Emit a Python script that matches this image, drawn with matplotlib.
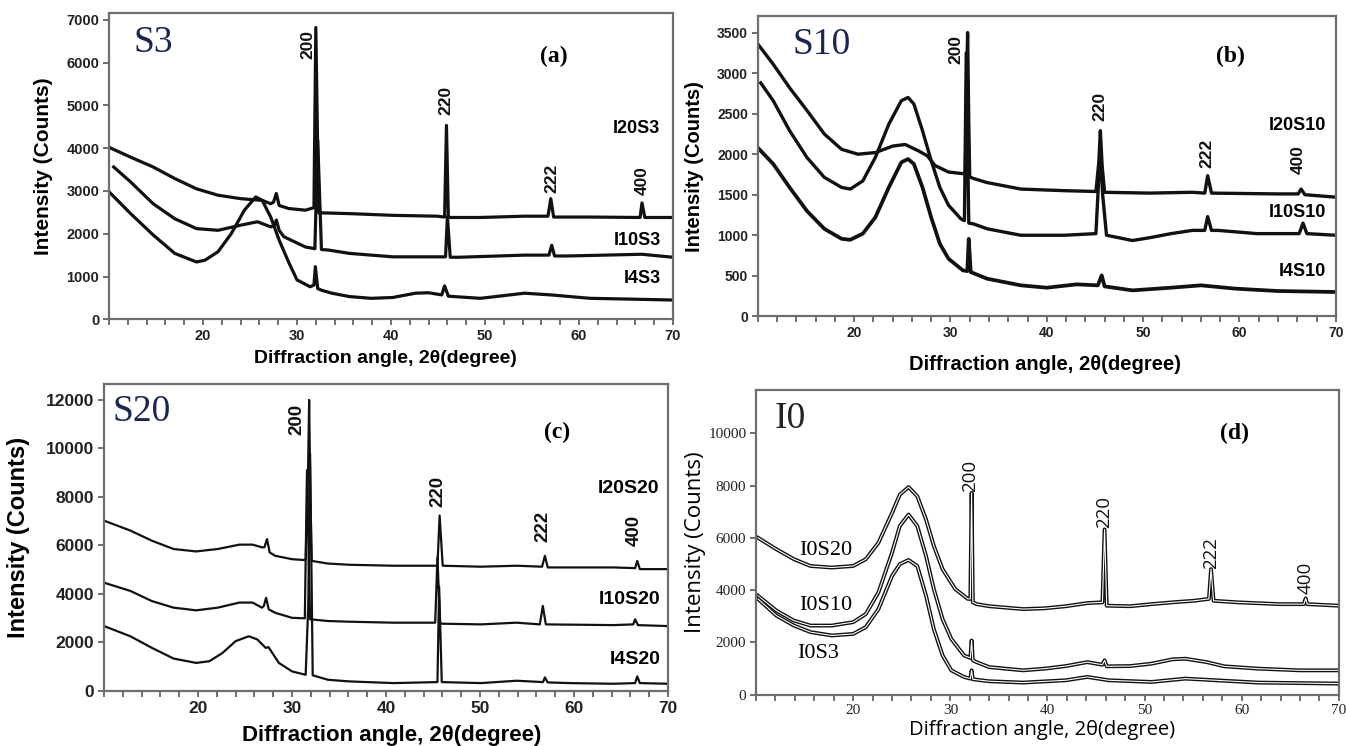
import matplotlib.pyplot as plt
from matplotlib.ticker import MultipleLocator

# ---------------- panel (a): S3 ----------------
tt_i20s3 = [10, 12.3, 14.7, 17, 19.3, 21.6, 24, 26.3, 27.2, 27.5, 27.8, 28.1, 29.1, 30.9, 31.8, 32.0, 32.3,
            35.6, 40.2, 44.9, 45.7, 45.9, 46.1, 49.5, 54.2, 56.7, 57.0, 57.3, 61.2, 66.5, 66.7, 67.0, 70]
i20s3 = [4020, 3790, 3560, 3290, 3050, 2900, 2820, 2780, 2700, 2740, 2940, 2660, 2590, 2550, 2610, 6820, 2490,
         2470, 2430, 2410, 2390, 4530, 2380, 2380, 2410, 2410, 2820, 2390, 2390, 2380, 2720, 2380, 2380]
tt_i10s3 = [10.5, 12.3, 14.7, 17, 19.3, 21.6, 24, 25.8, 27.2, 27.6, 27.8, 28.1, 28.6, 30.9, 31.9, 32.2, 32.6,
            33.3, 35.6, 40.2, 44.9, 45.8, 46.0, 46.3, 47.2, 54.2, 56.8, 57.1, 57.4, 58.8, 66.7, 70]
i10s3 = [3560, 3210, 2700, 2350, 2120, 2080, 2200, 2280, 2160, 2200, 2320, 2080, 1930, 1690, 1650, 4180, 1630,
         1620, 1540, 1460, 1460, 1460, 2400, 1450, 1450, 1500, 1500, 1730, 1480, 1480, 1520, 1450]
tt_i4s3 = [10, 12.3, 14.7, 17, 19.3, 20.2, 21.6, 23, 24.4, 25.6, 26.3, 27.2, 28.1, 29.1, 30, 31.4, 31.8, 31.95,
           32.2, 32.6, 33.7, 35.6, 37.9, 40.2, 42.6, 44, 45.4, 45.7, 46.1, 49.5, 54.2, 57, 61.2, 65.8, 70]
i4s3 = [2980, 2470, 1970, 1540, 1340, 1380, 1580, 2000, 2550, 2860, 2780, 2390, 1850, 1340, 920, 760, 800, 1230,
        720, 680, 610, 530, 490, 510, 610, 620, 570, 780, 540, 490, 610, 570, 490, 470, 450]

# ---------------- panel (b): S10 ----------------
tt_i20s10 = [10, 11.6, 13.3, 15.1, 16.9, 18.7, 20.4, 22.2, 24, 25.3, 26.7, 27.6, 28.4, 29.8, 31.3, 31.55, 31.7,
             31.78, 31.9, 32.0, 32.4, 33.8, 37.3, 41.8, 45.1, 45.4, 45.56, 45.75, 46.0, 50.7, 55.1, 56.4, 56.7,
             57.1, 64, 66.1, 66.4, 66.8, 70]
i20s10 = [3360, 3110, 2820, 2540, 2250, 2060, 2000, 2020, 2100, 2120, 2040, 1980, 1860, 1780, 1760, 1780, 3000,
          3500, 2400, 1720, 1700, 1650, 1570, 1550, 1540, 1900, 2290, 1850, 1530, 1520, 1530, 1520, 1735,
          1520, 1510, 1510, 1570, 1500, 1470]
tt_i10s10 = [10.3, 11.6, 13.3, 15.1, 16.9, 18.7, 19.6, 20.9, 22.2, 23.6, 24.9, 25.6, 26.2, 27.1, 28, 28.9, 29.8,
             31.1, 31.45, 31.64, 31.9, 32.4, 33.8, 37.3, 41.8, 45.1, 45.35, 45.56, 45.8, 46.2, 48.9, 50.7, 52.9,
             55.1, 56.4, 56.7, 57.1, 57.8, 61.8, 64.9, 66.2, 66.6, 67, 70]
i10s10 = [2880, 2660, 2290, 1960, 1715, 1590, 1570, 1670, 1960, 2370, 2660, 2700, 2620, 2290, 1920, 1590, 1370,
          1200, 1180, 3250, 1150, 1140, 1080, 1000, 1000, 1020, 1600, 2100, 1500, 1000, 935, 970, 1020,
          1060, 1060, 1230, 1060, 1060, 1020, 1020, 1020, 1150, 1020, 1000]
tt_i4s10 = [10, 11.6, 13.3, 15.1, 16.9, 18.7, 19.6, 20.9, 22.2, 23.6, 24.9, 25.6, 26.2, 27.1, 28, 28.9, 29.8,
            31.3, 31.75, 31.9, 32.1, 33.8, 37.3, 40, 43.1, 45.3, 45.7, 46, 48.9, 52.9, 56, 59.6, 64, 70]
i4s10 = [2080, 1880, 1590, 1300, 1080, 956, 944, 1020, 1220, 1590, 1900, 1940, 1880, 1590, 1220, 894, 710,
         566, 558, 956, 546, 464, 382, 353, 394, 382, 505, 369, 320, 353, 382, 341, 312, 300]

# ---------------- panel (c): S20 ----------------
tt_i20s20 = [10, 12.8, 15.1, 17.4, 19.8, 22.1, 24.4, 25.8, 26.8, 27.06, 27.34, 27.62, 28.2, 30, 31.45, 31.7,
             31.82, 31.95, 32.1, 33.8, 36.1, 40.8, 45.47, 45.7, 46.03, 50.1, 53.9, 56.6, 56.9, 57.2, 64.2, 66.5,
             66.73, 67.0, 70]
i20s20 = [7020, 6610, 6190, 5850, 5750, 5850, 6030, 6030, 5920, 5920, 6260, 5710, 5570, 5430, 5390, 9000,
          12000, 8000, 5360, 5250, 5200, 5160, 5160, 7230, 5160, 5120, 5160, 5120, 5570, 5090, 5090, 5060,
          5360, 5020, 5020]
tt_i10s20 = [10, 12.8, 15.1, 17.4, 19.8, 22.1, 24.4, 25.8, 26.8, 27.0, 27.24, 27.52, 28.2, 30, 31.36, 31.59,
             31.92, 33.8, 36.1, 40.8, 45.23, 45.47, 45.75, 50.1, 53.9, 56.36, 56.68, 57.0, 64.2, 66.3, 66.5, 66.8,
             70]
i10s20 = [4460, 4120, 3700, 3430, 3320, 3430, 3640, 3640, 3430, 3500, 3840, 3360, 3220, 3010, 2990, 9100,
          2950, 2880, 2850, 2810, 2810, 5500, 2770, 2740, 2810, 2740, 3500, 2740, 2710, 2740, 2950, 2710,
          2670]
tt_i4s20 = [10, 12.8, 15.1, 17.4, 19.8, 21.2, 22.6, 24, 25.4, 26.3, 27.2, 27.5, 28.6, 30, 31.45, 31.73, 31.92,
            32.2, 33.8, 36.1, 40.8, 45.47, 45.65, 45.93, 50.1, 53.9, 56.7, 56.9, 57.2, 59.5, 64.2, 66.5, 66.73,
            67.0, 70]
i4s20 = [2670, 2250, 1770, 1330, 1150, 1220, 1560, 2050, 2250, 2120, 1770, 1800, 1150, 800, 660, 3570, 9790,
         640, 456, 387, 318, 359, 4300, 359, 318, 415, 359, 553, 346, 318, 290, 318, 594, 318, 290]

# ---------------- panel (d): I0 ----------------
tt_i0s20 = [10.2, 12.1, 13.9, 15.6, 17.8, 20, 21.3, 22.6, 24, 24.8, 25.7, 26.6, 27.5, 28.3, 29.2, 30.5, 31.8,
            32.06, 32.19, 32.32, 32.7, 34, 37.5, 39.7, 41.9, 44.1, 45.66, 45.88, 46.1, 48.5, 50.7, 52.9, 55.1,
            56.62, 56.84, 57.1, 59.5, 63.9, 66.4, 66.58, 66.75, 70]
i0s20 = [6000, 5560, 5180, 4920, 4860, 4920, 5180, 5810, 6950, 7650, 7940, 7590, 6700, 5690, 4800, 4040, 3660,
         3660, 7720, 3530, 3460, 3380, 3270, 3300, 3380, 3500, 3530, 6320, 3400, 3380, 3460, 3530, 3590,
         3660, 4800, 3590, 3530, 3460, 3460, 3680, 3460, 3400]
tt_i0s10 = [10.2, 12.1, 13.9, 15.6, 17.8, 20, 21.3, 22.6, 24, 24.8, 25.7, 26.6, 27.5, 28.3, 29.2, 30.1, 31.4,
            32.06, 32.19, 32.32, 32.7, 34, 37.5, 39.7, 41.9, 44.1, 45.66, 45.88, 46.1, 48.5, 50.7, 52.9, 54.2,
            56.4, 58.2, 61.7, 66, 70]
i0s10 = [3780, 3210, 2830, 2640, 2640, 2770, 3080, 3910, 5430, 6450, 6890, 6450, 5300, 4040, 2890, 2130, 1500,
         1400, 2070, 1310, 1240, 1050, 926, 990, 1090, 1240, 1140, 1310, 1080, 1090, 1180, 1350, 1370,
         1240, 1080, 990, 926, 926]
tt_i0s3 = [10.2, 12.1, 13.9, 15.6, 17.8, 20, 21.3, 22.6, 24, 24.8, 25.7, 26.6, 27.5, 28.3, 29.2, 30.1, 31.4,
           32.06, 32.19, 32.32, 34, 37.5, 41.9, 44.1, 46.3, 50.7, 54.2, 57.3, 61.7, 70]
i0s3 = [3660, 3020, 2640, 2390, 2260, 2320, 2580, 3270, 4540, 4990, 5150, 4920, 3780, 2510, 1500, 926, 673,
        609, 926, 584, 508, 457, 546, 673, 546, 482, 609, 546, 457, 419]

peak_names = ['200', '220', '222', '400']

fig = plt.figure(figsize=(13.46, 7.46), dpi=100)
BLACK = '#111111'
SANS = 'Liberation Sans'
SERIF = 'Liberation Serif'


def style(ax, ytop, ystep, tfont, tsize, tweight):
    ax.set_xlim(10, 70)
    ax.set_ylim(0, ytop)
    ax.set_xticks([20, 30, 40, 50, 60, 70])
    ax.xaxis.set_minor_locator(MultipleLocator(2))
    ax.yaxis.set_major_locator(MultipleLocator(ystep))
    ax.tick_params(which='both', direction='out', length=4, width=1.2, color='#555555', pad=3)
    for s in ax.spines.values():
        s.set_color('#6e6e6e')
        s.set_linewidth(1.6)
    for lab in ax.get_xticklabels() + ax.get_yticklabels():
        lab.set_fontfamily(tfont)
        lab.set_fontsize(tsize)
        lab.set_fontweight(tweight)
        lab.set_color('#222222')


def peak_labels(ax, pos, size, weight, family):
    for name, (px, py) in zip(peak_names, pos):
        ax.text(px, py, name, rotation=90, ha='center', va='center', fontsize=size,
                fontweight=weight, family=family, color=BLACK)


# (a)
ax = fig.add_axes([0.081, 0.572, 0.419, 0.410])
ax.plot(tt_i20s3, i20s3, color=BLACK, lw=2.3)
ax.plot(tt_i10s3, i10s3, color=BLACK, lw=2.3)
ax.plot(tt_i4s3, i4s3, color=BLACK, lw=2.3)
style(ax, 7150, 1000, SANS, 10.5, 'bold')
ax.set_xlabel('Diffraction angle, 2θ(degree)', fontsize=14, fontweight='bold', family=SANS)
ax.set_ylabel('Intensity (Counts)', fontsize=15, fontweight='bold', family=SANS)
ax.xaxis.set_label_coords(0.49, -0.10)
ax.yaxis.set_label_coords(-0.10, 0.5)
ax.text(12.6, 6470, 'S3', fontsize=27, family=SERIF, color='#1b2650', ha='left', va='center')
ax.text(57.3, 6150, '(a)', fontsize=17, family=SERIF, fontweight='bold', ha='center', va='center')
peak_labels(ax, [(31.2, 6430), (45.8, 5110), (57.1, 3290), (66.7, 3250)], 12.5, 'bold', SANS)
ax.text(66.1, 4450, 'I20S3', fontsize=13, fontweight='bold', family=SANS, ha='center', va='center')
ax.text(66.2, 1850, 'I10S3', fontsize=13, fontweight='bold', family=SANS, ha='center', va='center')
ax.text(66.7, 955, 'I4S3', fontsize=13, fontweight='bold', family=SANS, ha='center', va='center')

# (b)
ax = fig.add_axes([0.563, 0.576, 0.4294, 0.402])
ax.plot(tt_i20s10, i20s10, color=BLACK, lw=2.4)
ax.plot(tt_i10s10, i10s10, color=BLACK, lw=2.4)
ax.plot(tt_i4s10, i4s10, color=BLACK, lw=2.7)
style(ax, 3700, 500, SANS, 10, 'bold')
ax.set_xlabel('Diffraction angle, 2θ(degree)', fontsize=14.5, fontweight='bold', family=SANS)
ax.set_ylabel('Intensity (Counts)', fontsize=14.5, fontweight='bold', family=SANS)
ax.xaxis.set_label_coords(0.497, -0.13)
ax.yaxis.set_label_coords(-0.093, 0.5)
ax.text(13.6, 3350, 'S10', fontsize=27, family=SERIF, color='#1b2650', ha='left', va='center')
ax.text(59.1, 3200, '(b)', fontsize=17, family=SERIF, fontweight='bold', ha='center', va='center')
peak_labels(ax, [(30.6, 3295), (45.56, 2585), (56.67, 2010), (66.1, 1940)], 12.5, 'bold', SANS)
ax.text(66.0, 2351, 'I20S10', fontsize=13, fontweight='bold', family=SANS, ha='center', va='center')
ax.text(66.0, 1284, 'I10S10', fontsize=13, fontweight='bold', family=SANS, ha='center', va='center')
ax.text(66.5, 558, 'I4S10', fontsize=13, fontweight='bold', family=SANS, ha='center', va='center')

# (c)
ax = fig.add_axes([0.0773, 0.074, 0.419, 0.411])
ax.plot(tt_i20s20, i20s20, color=BLACK, lw=1.6)
ax.plot(tt_i10s20, i10s20, color=BLACK, lw=1.6)
ax.plot(tt_i4s20, i4s20, color=BLACK, lw=1.6)
style(ax, 12650, 2000, SANS, 12.5, 'bold')
ax.set_xlabel('Diffraction angle, 2θ(degree)', fontsize=16, fontweight='bold', family=SANS)
ax.set_ylabel('Intensity (Counts)', fontsize=17, fontweight='bold', family=SANS)
ax.xaxis.set_label_coords(0.51, -0.112)
ax.yaxis.set_label_coords(-0.131, 0.5)
ax.text(10.9, 11500, 'S20', fontsize=27, family=SERIF, color='#1b2650', ha='left', va='center')
ax.text(58.2, 10660, '(c)', fontsize=17, family=SERIF, fontweight='bold', ha='center', va='center')
peak_labels(ax, [(30.5, 11200), (45.5, 8240), (56.7, 6774), (66.4, 6636)], 13.5, 'bold', SANS)
ax.text(65.8, 8336, 'I20S20', fontsize=14, fontweight='bold', family=SANS, ha='center', va='center')
ax.text(65.9, 3774, 'I10S20', fontsize=14, fontweight='bold', family=SANS, ha='center', va='center')
ax.text(66.5, 1286, 'I4S20', fontsize=14, fontweight='bold', family=SANS, ha='center', va='center')

# (d)
ax = fig.add_axes([0.5617, 0.069, 0.433, 0.408])
for tt, yy in [(tt_i0s20, i0s20), (tt_i0s10, i0s10), (tt_i0s3, i0s3)]:
    ax.plot(tt, yy, color=BLACK, lw=2.8)
    ax.plot(tt, yy, color='white', lw=0.8)
style(ax, 11650, 2000, SERIF, 11, 'normal')
ax.set_xlabel('Diffraction angle, 2θ(degree)', fontsize=14.5, family='Open Sans')
ax.set_ylabel('Intensity (Counts)', fontsize=16, family='Open Sans')
ax.xaxis.set_label_coords(0.49, -0.085)
ax.yaxis.set_label_coords(-0.086, 0.5)
ax.text(11.9, 10570, 'I0', fontsize=27, family=SERIF, color='#222222', ha='left', va='center')
ax.text(59.25, 10000, '(d)', fontsize=17, family=SERIF, fontweight='bold', ha='center', va='center')
peak_labels(ax, [(32.06, 8350), (45.8, 6980), (56.84, 5406), (66.6, 4480)], 13.5, 'normal', 'Open Sans')
ax.text(17.2, 5495, 'I0S20', fontsize=16, family=SERIF, ha='center', va='center')
ax.text(17.2, 3400, 'I0S10', fontsize=16, family=SERIF, ha='center', va='center')
ax.text(16.4, 1561, 'I0S3', fontsize=16, family=SERIF, ha='center', va='center')

fig.savefig('out.png', dpi=100)
